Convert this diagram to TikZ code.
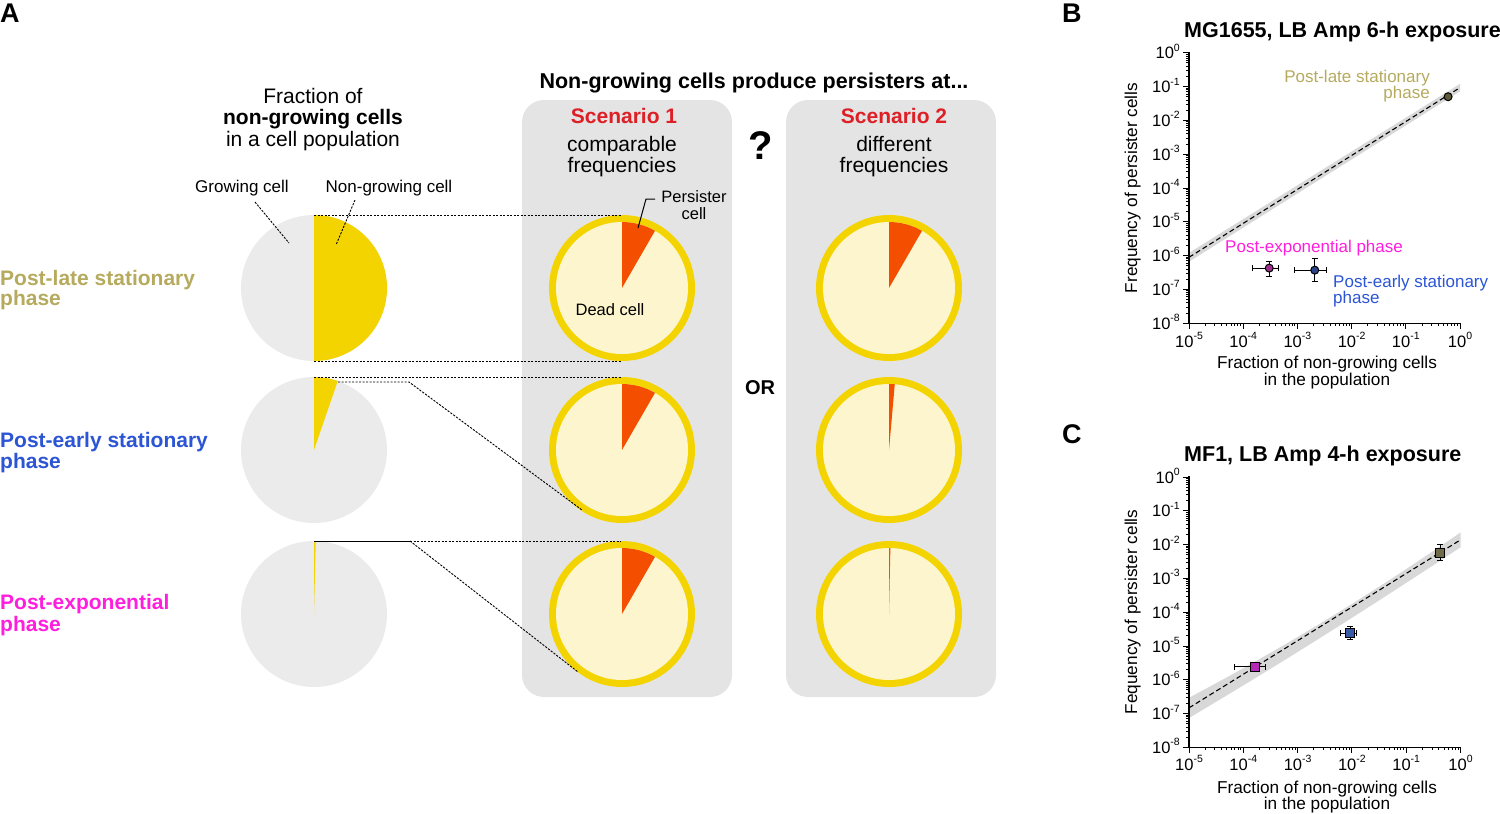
\documentclass[tikz,border=0pt]{standalone}
\usepackage{fontspec}
\setmainfont{Liberation Sans}
\definecolor{olivet}{HTML}{B5AA5E}
\definecolor{bluet}{HTML}{2B55D5}
\definecolor{magt}{HTML}{FF1EDD}
\definecolor{scred}{HTML}{DD1F26}
\definecolor{yel}{HTML}{F4D400}
\definecolor{cream}{HTML}{FCF5CD}
\definecolor{wedgec}{HTML}{F44F00}
\definecolor{piegrey}{HTML}{EBEBEB}
\definecolor{boxgrey}{HTML}{E4E4E4}
\definecolor{bandgrey}{HTML}{D8D8D8}
\definecolor{mkolive}{HTML}{5E5A3A}
\definecolor{mkmag}{HTML}{A0308F}
\definecolor{mkblue}{HTML}{2C4488}
\definecolor{sqmag}{HTML}{B52AB5}
\definecolor{sqblue}{HTML}{3A5AA8}
\definecolor{sqolive}{HTML}{6E6A4A}
\newcommand\fsz[2]{\fontsize{#1}{#2}\selectfont}
\newcommand\tenp[1]{10\raisebox{0.45em}{\fsz{10.5}{11}#1}}
\begin{document}
\begin{tikzpicture}[x=1pt,y=-1pt,
  txt/.style={inner sep=0pt, anchor=base},
  big/.style={font=\fsz{21}{22}},
  bigb/.style={font=\fsz{21}{22}\bfseries},
  small/.style={font=\fsz{17}{18}},
  leader/.style={draw=black, line width=0.9pt, dash pattern=on 2.2pt off 1.3pt},
  scbox/.style={fill=boxgrey, rounded corners=22pt},
  axisline/.style={line width=1.4pt, line cap=rect},
  tick/.style={line width=1pt},
  fitline/.style={line width=1.1pt, dash pattern=on 5pt off 3pt},
  errb/.style={line width=1pt},
  plotlab/.style={font=\fsz{17}{18}},
  ticklab/.style={font=\fsz{16.5}{17}, inner sep=0pt},
  axlab/.style={font=\fsz{17.2}{18}, inner sep=0pt, anchor=base},
  ptitle/.style={font=\fsz{21.5}{22}\bfseries, inner sep=0pt, anchor=base west},
  panel/.style={font=\fsz{27}{27}\bfseries, inner sep=0pt, anchor=base west}
]
\useasboundingbox (0,0) rectangle (1500,814);

% ---------- panel letters ----------
\node[panel] (lA) at (0,22) {A};
\node[panel] (lB) at (1062,22) {B};
\node[panel] (lC) at (1062,443) {C};

% ---------- scenario boxes ----------
\fill[scbox] (522,100) rectangle (732,697);
\fill[scbox] (786,100) rectangle (996,697);

% ---------- left headings ----------
\node[txt,big]  (fr1) at (313,103) {Fraction of};
\node[txt,bigb] (fr2) at (313,124) {non-growing cells};
\node[txt,big]  (fr3) at (313,146) {in a cell population};
\node[txt,small] (gc) at (242,192) {Growing cell};
\node[txt,small] (ngc) at (389,192) {Non-growing cell};

\node[txt,bigb,anchor=base west,text=olivet] (ph1a) at (0,285) {Post-late stationary};
\node[txt,bigb,anchor=base west,text=olivet] (ph1b) at (0,305) {phase};
\node[txt,bigb,anchor=base west,text=bluet] (ph2a) at (0,447) {Post-early stationary};
\node[txt,bigb,anchor=base west,text=bluet] (ph2b) at (0,468) {phase};
\node[txt,bigb,anchor=base west,text=magt] (ph3a) at (0,609) {Post-exponential};
\node[txt,bigb,anchor=base west,text=magt] (ph3b) at (0,631) {phase};

% ---------- left pies ----------
\coordinate (p1) at (314,288);
\coordinate (p2) at (314,450);
\coordinate (p3) at (314,614);
\foreach \c in {p1,p2,p3} \fill[piegrey] (\c) circle[radius=73pt];
\fill[yel] (p1) -- ++(90:73pt) arc[start angle=90,end angle=-90,radius=73pt] -- cycle;
\fill[yel] (p2) -- ++(90:73pt) arc[start angle=90,end angle=71,radius=73pt] -- cycle;
\fill[yel] (p3) -- ++(90:73pt) arc[start angle=90,end angle=88.6,radius=73pt] -- cycle;

% leaders to growing / non-growing
\coordinate (gcA) at (255,202);
\coordinate (gcB) at (289,243);
\coordinate (ngA) at (355,200);
\coordinate (ngB) at (336,245);
\draw[leader] (gcA) -- (gcB);
\draw[leader] (ngA) -- (ngB);

% ---------- scenario pies ----------
\coordinate (s1a) at (622,288);
\coordinate (s1b) at (622,450);
\coordinate (s1c) at (622,614);
\coordinate (s2a) at (889,288);
\coordinate (s2b) at (889,450);
\coordinate (s2c) at (889,614);
\foreach \c/\a in {s1a/60,s1b/60,s1c/60,s2a/60,s2b/85,s2c/88.8}{
  \fill[yel] (\c) circle[radius=73pt];
  \fill[cream] (\c) circle[radius=66pt];
  \fill[wedgec] (\c) -- ++(90:66pt) arc[start angle=90,end angle=\a,radius=66pt] -- cycle;
}

% ---------- zoom connectors ----------
\coordinate (z1t) at (314,215);  \coordinate (z1tR) at (621,215);
\coordinate (z1b) at (314,361);  \coordinate (z1bR) at (621,361);
\coordinate (z2t) at (314,377);  \coordinate (z2tR) at (621,377);
\coordinate (z2w) at (338,382);  \coordinate (z2k) at (409,382);
\coordinate (z2e) at (582,510);
\coordinate (z3t) at (314,541);  \coordinate (z3k) at (410,541);
\coordinate (z3tR) at (621,541); \coordinate (z3e) at (578,672);
\draw[leader] (z1t) -- (z1tR);
\draw[leader] (z1b) -- (z1bR);
\draw[leader] (z2t) -- (z2tR);
\draw[leader] (z2w) -- (z2k) -- (z2e);
\draw[line width=0.9pt] (z3t) -- (z3k);
\draw[leader] (z3k) -- (z3tR);
\draw[leader] (z3k) -- (z3e);

% ---------- scenario texts ----------
\node[txt,font=\fsz{21.5}{22}\bfseries] (ttl) at (754,88) {Non-growing cells produce persisters at...};
\node[txt,bigb,text=scred] (sc1) at (624,123) {Scenario 1};
\node[txt,big] (sc1a) at (622,151) {comparable};
\node[txt,big] (sc1b) at (622,172) {frequencies};
\node[txt,bigb,text=scred] (sc2) at (894,123) {Scenario 2};
\node[txt,big] (sc2a) at (894,151) {different};
\node[txt,big] (sc2b) at (894,172) {frequencies};
\node[txt,font=\fsz{40}{40}\bfseries] (qm) at (761,159) {?};
\node[txt,font=\fsz{20}{20}\bfseries] (orr) at (760,394) {OR};
\node[txt,font=\fsz{16.5}{17}] (pc1) at (694,202) {Persister};
\node[txt,font=\fsz{16.5}{17}] (pc2) at (694,219) {cell};
\node[txt,font=\fsz{16.5}{17}] (dc) at (610,315) {Dead cell};
\coordinate (pcA) at (655,199);
\coordinate (pcK) at (646,199);
\coordinate (pcB) at (638,228);
\draw[line width=1pt] (pcA) -- (pcK) -- (pcB);

% ================= plot B =================
\node[ptitle] (tB) at (1184,37) {MG1655, LB Amp 6-h exposure};
\node[axlab,rotate=90] (yB) at (1137,188) {Frequency of persister cells};
\node[axlab] (xB1) at (1327,368) {Fraction of non-growing cells};
\node[axlab] (xB2) at (1327,385) {in the population};
\begin{scope}[shift={(1189,52.8)}, x=54.2pt, y=33.8pt]
  \fill[bandgrey] (0,-5.92) -- (5,-0.92) -- (5,-1.14) -- (0,-6.18) -- cycle;
  \draw[fitline] (0,-6.05) -- (5,-1.03);
  \draw[axisline] (0,0) -- (0,-8) -- (5,-8);
  \foreach \v in {0,...,8} {
    \draw[tick] (0,-\v) -- ++(-6pt,0pt);
    \ifnum\v=0
      \node[ticklab,anchor=base east] at ([xshift=-9pt,yshift=-6pt]0,0) {\tenp{0}};
    \else
      \node[ticklab,anchor=base east] at ([xshift=-9pt,yshift=-6pt]0,-\v) {\tenp{-\v}};
    \fi
  }
  \foreach \d in {1,...,8}{\foreach \k in {2,...,9}{
    \draw[tick] (0,{-\d+log10(\k)}) -- ++(-3pt,0pt);}}
  \foreach \u/\lab in {0/-5,1/-4,2/-3,3/-2,4/-1,5/0}{
    \draw[tick] (\u,-8) -- ++(0pt,-6pt);
    \node[ticklab,anchor=base] at ([yshift=-24pt]\u,-8) {\tenp{\lab}};
  }
  \foreach \d in {0,...,4}{\foreach \k in {2,...,9}{
    \draw[tick] ({\d+log10(\k)},-8) -- ++(0pt,-3pt);}}
  % data
  \draw[errb] (4.70,-1.3) -- (4.86,-1.3) (4.78,-1.22) -- (4.78,-1.38);
  \filldraw[fill=mkolive,draw=black,line width=1pt] (4.78,-1.3) circle[radius=4pt];
  \draw[errb] (1.18,-6.37) -- (1.66,-6.37) (1.48,-6.17) -- (1.48,-6.61);
  \draw[errb] (1.18,-6.37)++(0pt,-3pt) -- ++(0pt,6pt);
  \draw[errb] (1.66,-6.37)++(0pt,-3pt) -- ++(0pt,6pt);
  \draw[errb] (1.48,-6.17)++(-3pt,0pt) -- ++(6pt,0pt);
  \draw[errb] (1.48,-6.61)++(-3pt,0pt) -- ++(6pt,0pt);
  \filldraw[fill=mkmag,draw=black,line width=1pt] (1.48,-6.37) circle[radius=4pt];
  \draw[errb] (1.94,-6.43) -- (2.53,-6.43) (2.32,-6.08) -- (2.32,-6.78);
  \draw[errb] (1.94,-6.43)++(0pt,-3pt) -- ++(0pt,6pt);
  \draw[errb] (2.53,-6.43)++(0pt,-3pt) -- ++(0pt,6pt);
  \draw[errb] (2.32,-6.08)++(-3pt,0pt) -- ++(6pt,0pt);
  \draw[errb] (2.32,-6.78)++(-3pt,0pt) -- ++(6pt,0pt);
  \filldraw[fill=mkblue,draw=black,line width=1pt] (2.32,-6.43) circle[radius=4pt];
\end{scope}
\node[plotlab,inner sep=0pt,anchor=base east,text=olivet] (bl1) at (1430,82) {Post-late stationary};
\node[plotlab,inner sep=0pt,anchor=base east,text=olivet] (bl2) at (1430,98) {phase};
\node[plotlab,inner sep=0pt,anchor=base west,text=magt] (bl3) at (1225,252) {Post-exponential phase};
\node[plotlab,inner sep=0pt,anchor=base west,text=bluet] (bl4) at (1333,287) {Post-early stationary};
\node[plotlab,inner sep=0pt,anchor=base west,text=bluet] (bl5) at (1333,303) {phase};

% ================= plot C =================
\node[ptitle] (tC) at (1184,461) {MF1, LB Amp 4-h exposure};
\node[axlab,rotate=90] (yC) at (1137,612) {Fequency of persister cells};
\node[axlab] (xC1) at (1327,793) {Fraction of non-growing cells};
\node[axlab] (xC2) at (1327,809) {in the population};
\begin{scope}[shift={(1189,477)}, x=54.3pt, y=33.8pt]
  \fill[bandgrey] (0,-6.53) .. controls (1.5,-5.25) and (3,-3.85) .. (5,-1.64)
     -- (5,-2.08) .. controls (3,-4.2) and (1.5,-5.7) .. (0,-7.13) -- cycle;
  \draw[fitline] (0,-6.83) -- (5,-1.86);
  \draw[axisline] (0,0) -- (0,-8) -- (5,-8);
  \foreach \v in {0,...,8} {
    \draw[tick] (0,-\v) -- ++(-6pt,0pt);
    \ifnum\v=0
      \node[ticklab,anchor=base east] at ([xshift=-9pt,yshift=-6pt]0,0) {\tenp{0}};
    \else
      \node[ticklab,anchor=base east] at ([xshift=-9pt,yshift=-6pt]0,-\v) {\tenp{-\v}};
    \fi
  }
  \foreach \d in {1,...,8}{\foreach \k in {2,...,9}{
    \draw[tick] (0,{-\d+log10(\k)}) -- ++(-3pt,0pt);}}
  \foreach \u/\lab in {0/-5,1/-4,2/-3,3/-2,4/-1,5/0}{
    \draw[tick] (\u,-8) -- ++(0pt,-6pt);
    \node[ticklab,anchor=base] at ([yshift=-23pt]\u,-8) {\tenp{\lab}};
  }
  \foreach \d in {0,...,4}{\foreach \k in {2,...,9}{
    \draw[tick] ({\d+log10(\k)},-8) -- ++(0pt,-3pt);}}
  % data
  \draw[errb] (0.83,-5.62) -- (1.40,-5.62);
  \draw[errb] (0.83,-5.62)++(0pt,-3pt) -- ++(0pt,6pt);
  \draw[errb] (1.40,-5.62)++(0pt,-3pt) -- ++(0pt,6pt);
  \filldraw[fill=sqmag,draw=black,line width=1pt] (1.22,-5.62) ++(-4.5pt,-4.5pt) rectangle ++(9pt,9pt);
  \draw[errb] (2.79,-4.62) -- (3.08,-4.62) (2.97,-4.41) -- (2.97,-4.82);
  \draw[errb] (2.79,-4.62)++(0pt,-3pt) -- ++(0pt,6pt);
  \draw[errb] (3.08,-4.62)++(0pt,-3pt) -- ++(0pt,6pt);
  \draw[errb] (2.97,-4.41)++(-3pt,0pt) -- ++(6pt,0pt);
  \draw[errb] (2.97,-4.82)++(-3pt,0pt) -- ++(6pt,0pt);
  \filldraw[fill=sqblue,draw=black,line width=1pt] (2.97,-4.62) ++(-4.5pt,-4.5pt) rectangle ++(9pt,9pt);
  \draw[errb] (4.63,-2.01) -- (4.63,-2.46);
  \draw[errb] (4.63,-2.01)++(-3pt,0pt) -- ++(6pt,0pt);
  \draw[errb] (4.63,-2.46)++(-3pt,0pt) -- ++(6pt,0pt);
  \filldraw[fill=sqolive,draw=black,line width=1pt] (4.63,-2.25) ++(-4.5pt,-4.5pt) rectangle ++(9pt,9pt);
\end{scope}
\end{tikzpicture}
\end{document}
